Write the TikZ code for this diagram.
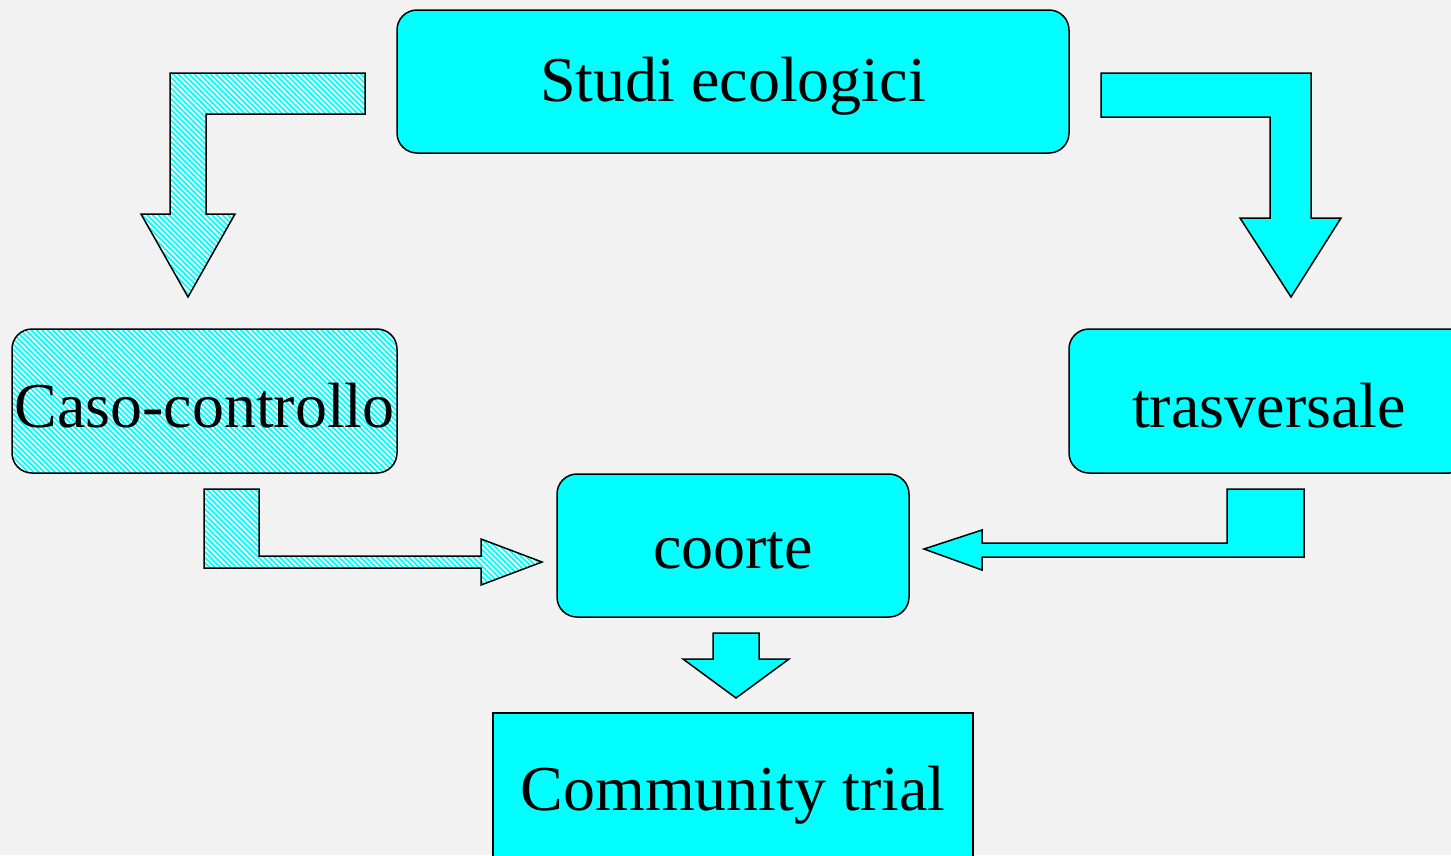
\documentclass[tikz,border=0pt]{standalone}
\usepackage{fontspec}
\setmainfont{Liberation Serif}
\usetikzlibrary{patterns.meta}
\definecolor{aqua}{RGB}{0,255,255}
\definecolor{paper}{RGB}{242,242,242}
\tikzset{
  hatched/.style={preaction={fill=aqua}, pattern={Lines[angle=-45,distance=3.8pt,line width=1.7pt]}, pattern color=white},
  solid/.style={fill=aqua},
  outline/.style={draw=black, line width=1.5pt, line join=miter},
  study/.style={outline, rounded corners=20pt, inner sep=0pt},
  caption/.style={font=\fontsize{64}{70}\selectfont, inner sep=0pt, yshift=-5pt},
  blockarrow/.style={outline}
}
\begin{document}
\begin{tikzpicture}[x=1pt,y=-1pt]
\useasboundingbox (0,0) rectangle (1451,855);
\fill[paper] (0,0) rectangle (1451,855);
\clip (0,0) rectangle (1451,855);

% study designs
\node[study, solid, minimum width=672pt, minimum height=143pt,
  label={[caption]center:Studi ecologici}] (eco) at (733,81.5) {};
\node[study, hatched, minimum width=385pt, minimum height=144pt,
  label={[caption]center:Caso-controllo}] (cc) at (204.5,401) {};
\node[study, solid, minimum width=400pt, minimum height=144pt,
  label={[caption]center:trasversale}] (tr) at (1269,401) {};
\node[study, solid, minimum width=352pt, minimum height=143pt,
  label={[caption]center:coorte}] (co) at (733,545.5) {};
\node[study, solid, rounded corners=0pt, minimum width=480pt, minimum height=154pt,
  label={[caption]center:Community trial}] (ct) at (733,790) {};

% bent block arrows between the designs
\draw[blockarrow, hatched] (365,73) -- (170,73) -- (170,214) -- (141,214) -- (188,297)
  -- (235,214) -- (206,214) -- (206,114) -- (365,114) -- cycle;
\draw[blockarrow, solid] (1101,73) -- (1311,73) -- (1311,218) -- (1341,218) -- (1291,297)
  -- (1240,218) -- (1270,218) -- (1270,117) -- (1101,117) -- cycle;
\draw[blockarrow, hatched] (204,489) -- (259,489) -- (259,556) -- (481,556) -- (481,539)
  -- (542,562) -- (481,585) -- (481,568) -- (204,568) -- cycle;
\draw[blockarrow, solid] (1227,489) -- (1304,489) -- (1304,557) -- (982,557) -- (982,570)
  -- (924,549) -- (982,530) -- (982,543) -- (1227,543) -- cycle;
\draw[blockarrow, solid] (713,633) -- (759,633) -- (759,659) -- (789,659) -- (736,698)
  -- (683,659) -- (713,659) -- cycle;
\end{tikzpicture}
\end{document}
